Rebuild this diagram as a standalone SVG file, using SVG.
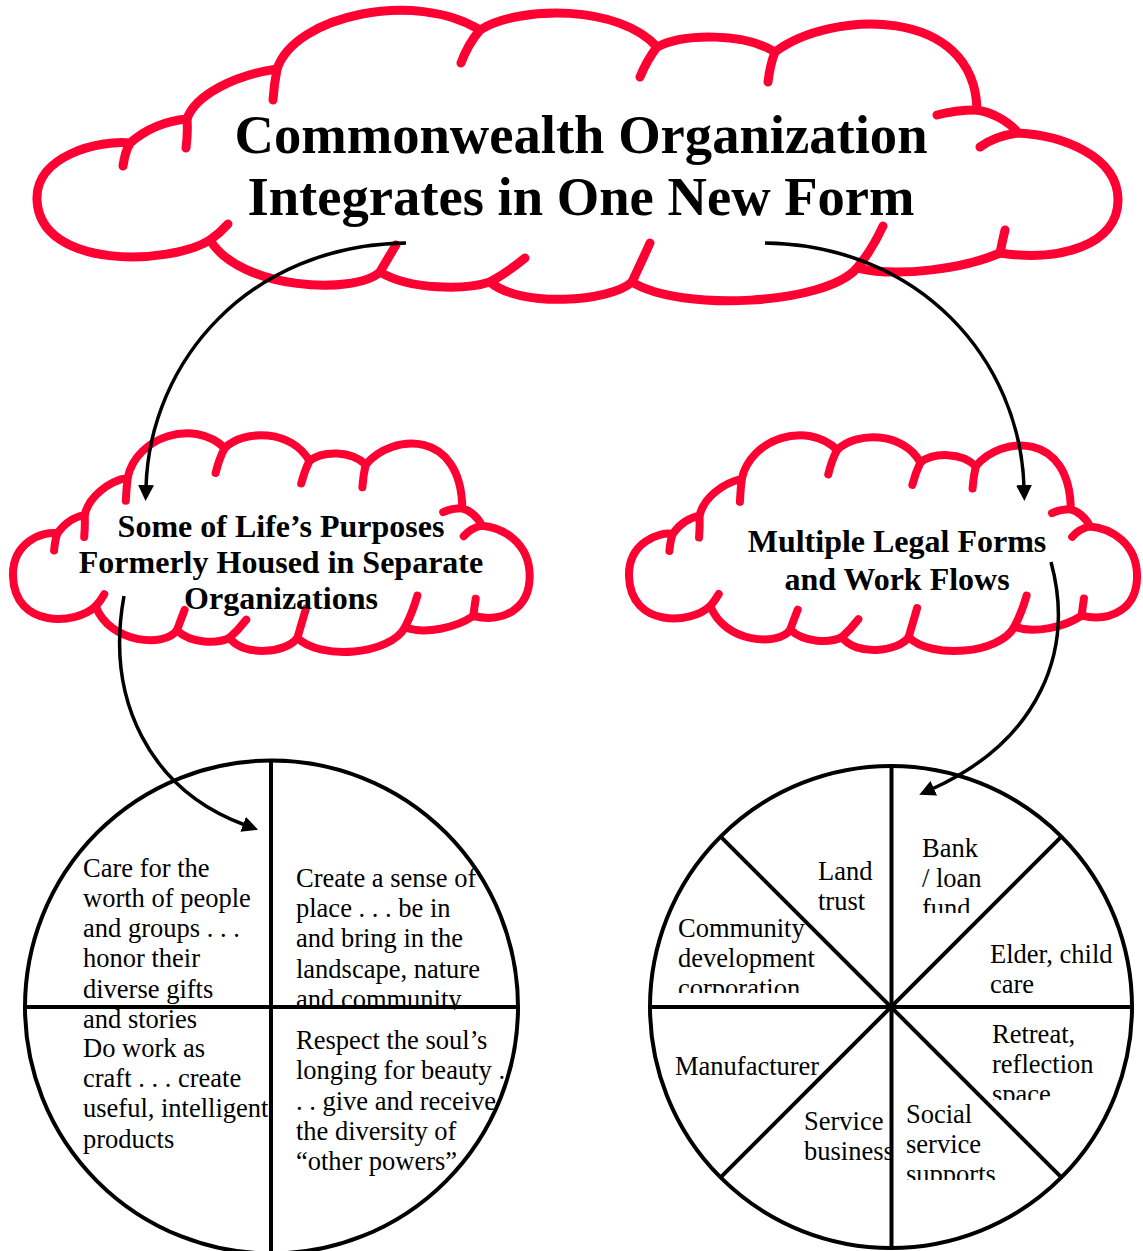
<svg xmlns="http://www.w3.org/2000/svg" xmlns:xlink="http://www.w3.org/1999/xlink" width="1143" height="1251" viewBox="0 0 1143 1251">
  <style>
    .cloud { fill: none; stroke: #FF0033; stroke-linecap: round; stroke-linejoin: round; }
    .big { stroke-width: 9; }
    .small { stroke-width: 8; }
    .head { font-family: "Liberation Serif", "Times New Roman", serif; font-weight: bold; text-anchor: middle; fill: #000; }
    .body { font-family: "Liberation Serif", "Times New Roman", serif; font-size: 26.5px; fill: #000; }
    .wire { fill: none; stroke: #000; stroke-width: 3.5; }
    .wheel { fill: none; stroke: #000; stroke-width: 4; }
  </style>
  <defs>
    <!-- scalloped cloud outline with its inward curls, drawn at the size of the title cloud -->
    <g id="cloudShape">
      <path vector-effect="non-scaling-stroke" d="M130,143 C145,130 165,121 187,119 C195,95 235,75 277,69 C295,15 415,-10 480,30 C520,5 620,5 657,47 C685,33 745,33 775,52 C830,10 975,5 977,110 C990,112 1008,120 1018,133 C1060,135 1118,155 1118,200 C1118,245 1060,262 1000,253 C965,268 900,278 857,268 C825,305 680,312 632,282 C610,302 520,308 490,282 C465,290 410,290 380,272 C355,295 240,290 210,240 C170,265 40,270 37,200 C35,155 100,140 130,143 Z"/>
      <path vector-effect="non-scaling-stroke" d="M130,143 Q125,152 123,166 M187,119 Q188,133 186,148 M277,69 Q274,85 273,100 M480,30 Q468,44 461,63 M657,47 Q647,60 640,77 M775,52 Q770,65 768,82 M977,110 Q955,110 937,115 M1018,133 Q995,136 980,147 M1000,253 Q1002,243 1005,230 M857,268 Q872,250 883,226 M632,282 Q640,265 650,243 M490,282 Q508,272 525,258 M380,272 Q388,258 396,245 M210,240 Q220,233 228,224"/>
    </g>
    <marker id="arrowHead" markerUnits="userSpaceOnUse" markerWidth="16" markerHeight="16" viewBox="0 0 16 16" refX="2" refY="8" orient="auto">
      <path d="M0,0 L16,8 L0,16 Z" fill="#000"/>
    </marker>
    <clipPath id="clipCommunity"><rect x="280" y="860" width="260" height="150"/></clipPath>
    <clipPath id="clipFund"><rect x="910" y="820" width="120" height="93"/></clipPath>
    <clipPath id="clipCorp"><rect x="660" y="900" width="200" height="93"/></clipPath>
    <clipPath id="clipSpace"><rect x="980" y="1010" width="150" height="90"/></clipPath>
    <clipPath id="clipSupports"><rect x="895" y="1090" width="150" height="90"/></clipPath>
  </defs>

  <!-- title cloud -->
  <g id="node-commonwealth">
    <use xlink:href="#cloudShape" href="#cloudShape" class="cloud big"/>
    <text class="head" font-size="54.6" x="581" y="153">Commonwealth Organization</text>
    <text class="head" font-size="54.6" x="581" y="215">Integrates in One New Form</text>
  </g>

  <!-- left cloud -->
  <g id="node-purposes">
    <use xlink:href="#cloudShape" href="#cloudShape" class="cloud small" transform="translate(-4.7,425.5) scale(0.478,0.753)"/>
    <text class="head" font-size="32" x="281" y="537">Some of Life’s Purposes</text>
    <text class="head" font-size="32" x="281" y="573">Formerly Housed in Separate</text>
    <text class="head" font-size="32" x="281" y="609">Organizations</text>
  </g>

  <!-- right cloud -->
  <g id="node-legal-forms">
    <use xlink:href="#cloudShape" href="#cloudShape" class="cloud small" transform="translate(611.6,427.6) scale(0.470,0.743)"/>
    <text class="head" font-size="32" x="897" y="552">Multiple Legal Forms</text>
    <text class="head" font-size="32" x="897" y="590">and Work Flows</text>
  </g>

  <!-- four purposes wheel -->
  <g id="node-purpose-wheel">
    <g class="body">
      <text x="83" y="877">Care for the</text>
      <text x="83" y="907">worth of people</text>
      <text x="83" y="937">and groups . . .</text>
      <text x="83" y="967">honor their</text>
      <text x="83" y="998">diverse gifts</text>
      <text x="83" y="1028">and stories</text>
      <text x="83" y="1057">Do work as</text>
      <text x="83" y="1087">craft . . . create</text>
      <text x="83" y="1117">useful, intelligent</text>
      <text x="83" y="1148">products</text>
      <text x="296" y="887">Create a sense of</text>
      <text x="296" y="917">place . . . be in</text>
      <text x="296" y="947">and bring in the</text>
      <text x="296" y="978">landscape, nature</text>
      <text x="296" y="1008" clip-path="url(#clipCommunity)">and community</text>
      <text x="296" y="1049">Respect the soul’s</text>
      <text x="296" y="1079">longing for beauty .</text>
      <text x="296" y="1110">. . give and receive</text>
      <text x="296" y="1140">the diversity of</text>
      <text x="296" y="1170">“other powers”</text>
    </g>
    <circle class="wheel" cx="271.5" cy="1007" r="246.5"/>
    <line class="wheel" x1="271" y1="760" x2="271" y2="1254"/>
    <line class="wheel" x1="25" y1="1007" x2="518" y2="1007"/>
  </g>

  <!-- legal forms wheel -->
  <g id="node-forms-wheel">
    <g class="body">
      <text x="818" y="880">Land</text>
      <text x="818" y="910">trust</text>
      <text x="922" y="857">Bank</text>
      <text x="922" y="887">/ loan</text>
      <text x="922" y="917" clip-path="url(#clipFund)">fund</text>
      <text x="678" y="937">Community</text>
      <text x="678" y="967">development</text>
      <text x="678" y="997" clip-path="url(#clipCorp)">corporation</text>
      <text x="990" y="963">Elder, child</text>
      <text x="990" y="993">care</text>
      <text x="992" y="1043">Retreat,</text>
      <text x="992" y="1073">reflection</text>
      <text x="992" y="1103" clip-path="url(#clipSpace)">space</text>
      <text x="675" y="1075">Manufacturer</text>
      <text x="804" y="1130">Service</text>
      <text x="804" y="1160">business</text>
      <text x="906" y="1123">Social</text>
      <text x="906" y="1153">service</text>
      <text x="906" y="1183" clip-path="url(#clipSupports)">supports</text>
    </g>
    <circle class="wheel" cx="891" cy="1007" r="241"/>
    <line class="wheel" x1="891.5" y1="766" x2="891.5" y2="1248"/>
    <line class="wheel" x1="650" y1="1007" x2="1132" y2="1007"/>
    <line class="wheel" x1="720.6" y1="836.6" x2="1061.4" y2="1177.4"/>
    <line class="wheel" x1="1061.4" y1="836.6" x2="720.6" y2="1177.4"/>
  </g>

  <!-- connectors -->
  <g id="connectors">
    <path class="wire" marker-end="url(#arrowHead)" d="M406,243 C250,245 150,360 146,487"/>
    <path class="wire" marker-end="url(#arrowHead)" d="M765,243 C920,245 1020,360 1024,487"/>
    <path class="wire" marker-end="url(#arrowHead)" d="M124,596 C105,700 150,790 245,825"/>
    <path class="wire" marker-end="url(#arrowHead)" d="M1051,562 C1075,650 1040,740 932,789"/>
  </g>
</svg>
